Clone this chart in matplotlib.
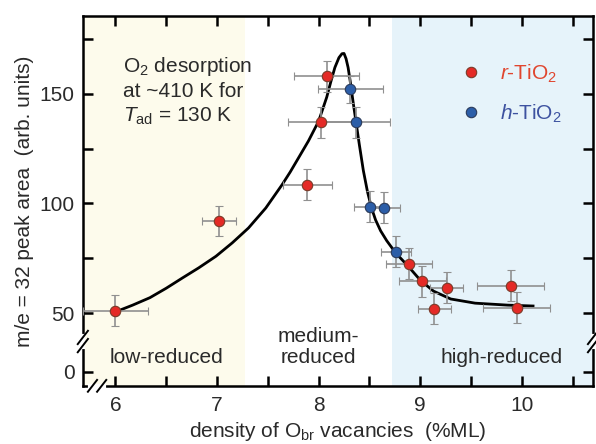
import numpy as np
import matplotlib
matplotlib.use('Agg')
import matplotlib.pyplot as plt
from matplotlib.lines import Line2D
import matplotlib.transforms as mtransforms

plt.rcParams['font.family'] = ['Liberation Sans', 'DejaVu Sans']
plt.rcParams['mathtext.fontset'] = 'custom'
plt.rcParams['mathtext.rm'] = 'Liberation Sans'
plt.rcParams['mathtext.it'] = 'Liberation Sans:italic'

# r-TiO2 points
x_r = [6.00, 7.02, 7.89, 8.02, 8.08, 8.89, 9.02, 9.26, 9.14, 9.89, 9.95]
y_r = [51, 92, 108.5, 137, 158, 72.5, 64.5, 61.5, 52, 62.5, 52.5]
xerr_r = [0.32, 0.17, 0.24, 0.32, 0.32, 0.23, 0.23, 0.16, 0.16, 0.33, 0.33]
yerr_r = [7, 7, 7, 7, 7, 7, 7, 7, 7, 7, 7]

# h-TiO2 points
x_h = [8.31, 8.37, 8.51, 8.64, 8.76]
y_h = [152, 137, 98.5, 98, 78]
xerr_h = [0.32, 0.33, 0.16, 0.16, 0.15]
yerr_h = [6, 7, 7, 7, 7]

# guide-to-the-eye curve
curve_x = [6.00, 6.17, 6.34, 6.50, 6.66, 6.82, 6.99, 7.15, 7.31, 7.48, 7.64, 7.72,
           7.80, 7.90, 8.00, 8.08, 8.12, 8.16, 8.20, 8.23, 8.25, 8.27, 8.29, 8.31,
           8.34, 8.37, 8.40, 8.44, 8.48, 8.52, 8.56, 8.61, 8.67, 8.76, 8.88, 9.00,
           9.13, 9.30, 9.54, 9.86, 10.11]
curve_y = [50.5, 53.6, 57.0, 61.3, 66.0, 70.6, 75.9, 82.0, 88.8, 97.9, 108.5, 114.3,
           120.6, 128.5, 137.5, 148.5, 155.5, 162.0, 166.5, 168.3, 168.4, 166.0, 162.0, 156.0,
           146.0, 136.5, 127.0, 115.0, 105.5, 98.0, 92.5, 87.5, 83.0, 77.3, 71.4, 65.0,
           60.0, 56.4, 54.5, 53.6, 53.2]

regions = ['low-reduced', 'medium-\nreduced', 'high-reduced']
region_x = [6.5, 8.0, 9.8]
region_edges = [7.28, 8.72]

xlim = (5.68, 10.7)
ylim = (-17.2, 185.5)

# broken y axis: squeeze 0..37 into a short stretch
k = (37 - 23.2) / 37
def fwd(y):
    return np.interp(y, [-1000, 0, 37, 1000], [23.2 - 1000 * k, 23.2, 37, 1000])
def inv(y):
    return np.interp(y, [23.2 - 1000 * k, 23.2, 37, 1000], [-1000, 0, 37, 1000])

txt = '#2a2a2a'
fs = 15
fig = plt.figure(figsize=(5.96, 4.44), dpi=100)
ax = fig.add_axes([0.139, 0.131, 0.856, 0.833])
ax.set_yscale('function', functions=(fwd, inv))

ax.axvspan(xlim[0], region_edges[0], color='#fdfbec', lw=0, zorder=0)
ax.axvspan(region_edges[1], xlim[1], color='#e6f3fa', lw=0, zorder=0)

ax.plot(curve_x, curve_y, color='black', lw=2, zorder=3, solid_joinstyle='round')

ax.errorbar(x_r, y_r, xerr=xerr_r, yerr=yerr_r, fmt='o', color='#e42a26', ms=7.5,
            mec='#7a3a28', mew=0.8, ecolor='#909090', elinewidth=1.2, capsize=3,
            capthick=1.2, zorder=4)
ax.errorbar(x_h, y_h, xerr=xerr_h, yerr=yerr_h, fmt='o', color='#2c5ea8', ms=7.5,
            mec='#2a3a5a', mew=0.8, ecolor='#909090', elinewidth=1.2, capsize=3,
            capthick=1.2, zorder=4)

ax.set_xlim(*xlim)
ax.set_ylim(*ylim)
ax.set_xticks([6, 7, 8, 9, 10])
ax.set_xticks(np.arange(6.5, 10.6, 1.0), minor=True)
ax.set_yticks([0, 50, 100, 150])
ax.set_yticks([75, 125, 175], minor=True)
ax.tick_params(which='both', direction='in', top=True, right=True, width=1.8,
               length=7, labelsize=fs, labelcolor=txt)
ax.tick_params(axis='x', pad=7)
ax.tick_params(axis='y', pad=6)
for s in ax.spines.values():
    s.set_linewidth(1.8)

ax.set_xlabel('density of O$_{\\mathrm{br}}$ vacancies  (%ML)', fontsize=fs, color=txt,
              labelpad=4)
ax.set_ylabel('m/e = 32 peak area  (arb. units)', fontsize=fs, color=txt, labelpad=4)

blend = mtransforms.blended_transform_factory(ax.transData, ax.transAxes)
for lab, xx in zip(regions, region_x):
    ax.text(xx, 0.05, lab, transform=blend, ha='center', va='bottom', fontsize=fs,
            color=txt, linespacing=1.15)

ax.text(0.078, 0.849, 'O$_2$ desorption', transform=ax.transAxes, fontsize=fs, color=txt)
ax.text(0.078, 0.781, 'at ~410 K for', transform=ax.transAxes, fontsize=fs, color=txt)
ax.text(0.078, 0.714, '$T_{\\mathrm{ad}}$ = 130 K', transform=ax.transAxes, fontsize=fs, color=txt)

handles = [Line2D([], [], ls='none', marker='o', ms=7.5, mfc='#e42a26', mec='#7a3a28', mew=0.8),
           Line2D([], [], ls='none', marker='o', ms=7.5, mfc='#2c5ea8', mec='#2a3a5a', mew=0.8)]
leg = ax.legend(handles, ['$\\mathit{r}$-TiO$_2$', '$\\mathit{h}$-TiO$_2$'], loc='upper left',
                bbox_to_anchor=(0.74, 0.875), frameon=False, fontsize=fs, handlelength=1,
                handletextpad=0.9, labelspacing=0.85, borderpad=0, borderaxespad=0)
for t, c in zip(leg.get_texts(), ['#e0452e', '#3d52a0']):
    t.set_color(c)

# axis break marks
yb = ax.transAxes.inverted().transform(ax.transData.transform((7, 37)))[1]
for xs in (0, 1):
    ax.plot([xs, xs], [yb - 0.014, yb + 0.014], color='white', lw=3, transform=ax.transAxes,
            clip_on=False, zorder=6)
    for off in (-0.011, 0.011):
        ax.plot([xs - 0.01, xs + 0.01], [yb + off - 0.018, yb + off + 0.018], color='black',
                lw=1.4, transform=ax.transAxes, clip_on=False, zorder=7)
xb = (5.82 - xlim[0]) / (xlim[1] - xlim[0])
ax.plot([xb - 0.014, xb + 0.014], [0, 0], color='white', lw=3, transform=ax.transAxes,
        clip_on=False, zorder=6)
for off in (-0.009, 0.009):
    ax.plot([xb + off - 0.009, xb + off + 0.009], [-0.016, 0.016], color='black', lw=1.4,
            transform=ax.transAxes, clip_on=False, zorder=7)

fig.savefig('out.png', dpi=100)
